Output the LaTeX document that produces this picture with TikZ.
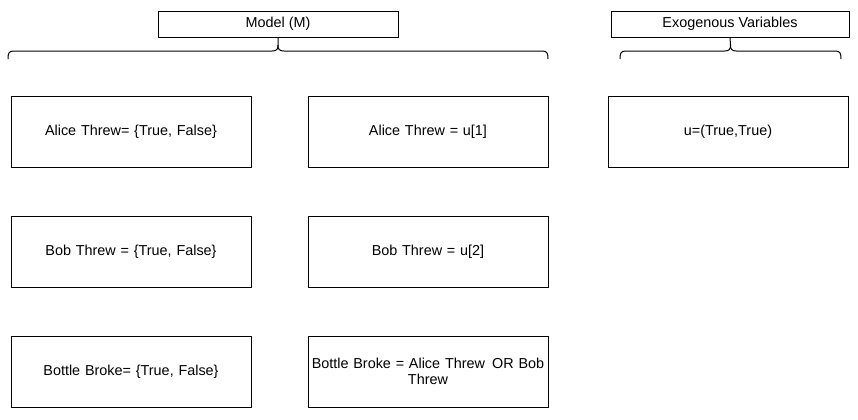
\documentclass[tikz,border=0pt]{standalone}
\usepackage{fontspec}
\setmainfont{Liberation Sans}
\begin{document}
\begin{tikzpicture}[x=0.75pt,y=-0.75pt,
    varbox/.style={draw,line width=0.75pt,minimum width=180pt,minimum height=53.25pt,
        inner sep=1pt,font=\fontsize{10.8pt}{12.5pt}\selectfont,text width=177pt,align=center},
    headbox/.style={draw,line width=0.75pt,minimum height=19.5pt,inner sep=0pt,
        font=\fontsize{10.8pt}{12.5pt}\selectfont},
    bracket/.style={line width=0.75pt}]
        \useasboundingbox (0,0) rectangle (858,419);

        \node[headbox,minimum width=180pt  ] (model) at (278,  24) {Model (M)};
        \node[headbox,minimum width=178.5pt] (exo)   at (730,  24) {Exogenous Variables};

        \node[varbox] (aliceDom)  at (131, 131.5) {Alice Threw= \{True, False\}};
        \node[varbox] (aliceEq)   at (428, 131.5) {Alice Threw = u[1]};
        \node[varbox] (u)         at (728, 131.5) {u=(True,True)};

        \node[varbox] (bobDom)    at (131, 251.5) {Bob Threw = \{True, False\}};
        \node[varbox] (bobEq)     at (428, 251.5) {Bob Threw = u[2]};

        \node[varbox] (bottleDom) at (131, 371.5) {Bottle Broke= \{True, False\}};
        \node[varbox] (bottleEq)  at (428, 371.5) {Bottle Broke = Alice Threw\, OR Bob\\Threw};

        \draw[bracket] (8,59) .. controls (8,53) and (9,51) .. (14,51) -- (272,51)
            .. controls (277,51) and (278,49) .. (278,45) -- (model.south);
        \draw[bracket] (548,59) .. controls (548,53) and (547,51) .. (542,51) -- (284,51)
            .. controls (279,51) and (278,49) .. (278,45);

        \draw[bracket] (620,59) .. controls (620,53) and (621,51) .. (626,51) -- (724.5,51)
            .. controls (729.5,51) and (730.5,49) .. (730.5,45) -- (exo.south);
        \draw[bracket] (841,59) .. controls (841,53) and (840,51) .. (835,51) -- (736.5,51)
            .. controls (731.5,51) and (730.5,49) .. (730.5,45);
    \end{tikzpicture}
\end{document}
